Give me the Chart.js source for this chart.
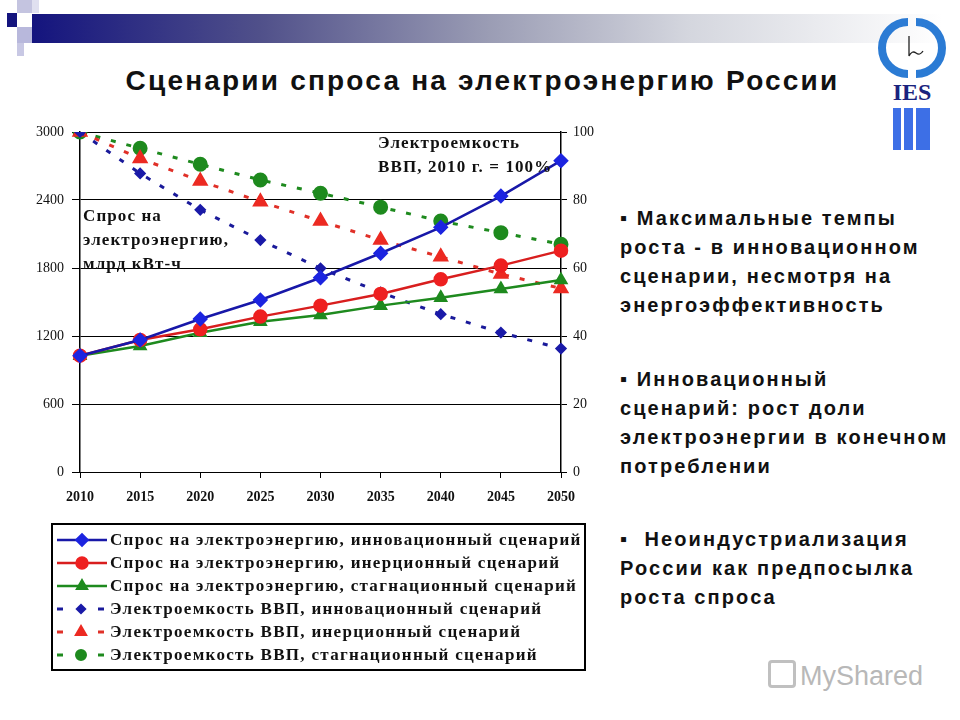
<!DOCTYPE html>
<html>
<head>
<meta charset="utf-8">
<script src="https://cdn.jsdelivr.net/npm/chart.js@4.4.1/dist/chart.umd.min.js"></script>
<style>
  body { margin: 0; background: #fff; }
  #slide { position: relative; width: 960px; height: 720px; overflow: hidden; background: #fff; font-family: "Liberation Sans", Arial, sans-serif; }
  .sq { position: absolute; }
  #bar { position: absolute; left: 32px; top: 14px; width: 910px; height: 29px;
         background: linear-gradient(to right, #14147e 0%, #50508a 25%, #9a9cb4 50%, #d4d6de 72%, #ffffff 100%); }
  #titulo { position: absolute; left: 0; top: 65px; width: 965px; text-align: center; font-weight: bold; font-size: 28px; letter-spacing: 2.2px; color: #111; }
  #grafWrap { position: absolute; left: 0; top: 110px; width: 620px; height: 580px; }
  .nota { position: absolute; font-family: "Liberation Serif", "Times New Roman", serif; font-weight: bold; font-size: 17px; line-height: 24px; color: #111; letter-spacing: 1.1px; white-space: nowrap; }
  .punto { position: absolute; left: 620px; font-weight: bold; font-size: 20px; line-height: 29px; letter-spacing: 2.1px; color: #111; white-space: nowrap; }
  #marca { position: absolute; left: 768px; top: 660px; color: #b8b8b8; font-size: 27px; }
</style>
</head>
<body>
<div id="slide">
  <div class="sq" style="left:17px;top:0;width:15px;height:13px;background:#c4c4e0"></div>
  <div class="sq" style="left:32px;top:0;width:7px;height:13px;background:#e0e0f0"></div>
  <div class="sq" style="left:7px;top:13px;width:10px;height:14px;background:#14147e"></div>
  <div class="sq" style="left:17px;top:27px;width:15px;height:16px;background:#b8b8dc"></div>
  <div class="sq" style="left:17px;top:43px;width:7px;height:13px;background:#c8c8e4"></div>
  <div id="bar"></div>

  <svg style="position:absolute;left:878px;top:16px" width="70" height="140">
    <path d="M30 6 A 26 26 0 0 0 30 58" stroke="#2b7bd4" stroke-width="8" fill="none"/>
    <path d="M38 6 A 26 26 0 0 1 38 58" stroke="#2b7bd4" stroke-width="8" fill="none"/>
    <path d="M31 20 L31 40 Q34 34 38 37 Q42 40 45 35" stroke="#222" stroke-width="1.3" fill="none"/>
    <text x="34" y="84" text-anchor="middle" font-family="Liberation Serif" font-weight="bold" font-size="24" fill="#1a237e">IES</text>
    <rect x="15" y="92" width="8" height="42" fill="#3d6fe6"/>
    <rect x="26" y="92" width="9" height="42" fill="#3d6fe6"/>
    <rect x="38" y="92" width="14" height="42" fill="#3d6fe6"/>
  </svg>

  <div id="titulo">Сценарии спроса на электроэнергию России</div>

  <div id="grafWrap"><canvas id="grafica"></canvas></div>

  <div class="nota" style="left:83px;top:204px">Спрос на<br>электроэнергию,<br>млрд кВт-ч</div>
  <div class="nota" style="left:378px;top:131px">Электроемкость<br>ВВП, 2010 г. = 100%</div>

  <div class="punto" style="top:204px">&#9642; Максимальные темпы<br>роста - в инновационном<br>сценарии, несмотря на<br>энергоэффективность</div>
  <div class="punto" style="top:365px">&#9642; Инновационный<br>сценарий: рост доли<br>электроэнергии в конечном<br>потреблении</div>
  <div class="punto" style="top:525px">&#9642;&nbsp; Неоиндустриализация<br>России как предпосылка<br>роста спроса</div>

  <div id="marca"><span style="display:inline-block;width:22px;height:22px;border:3px solid #c0c0c0;border-radius:4px;vertical-align:-3px;margin-right:4px"></span>MyShared</div>
</div>

<script>
const anios = ["2010", "2015", "2020", "2025", "2030", "2035", "2040", "2045", "2050"]

// спрос, млрд кВт-ч (левая ось)
const sprosInnov = [1026, 1165, 1350, 1518, 1714, 1930, 2159, 2435, 2747]
const sprosInerc = [1026, 1165, 1259, 1371, 1468, 1571, 1700, 1821, 1953]
const sprosStagn = [1026, 1112, 1229, 1326, 1385, 1468, 1538, 1615, 1694]

// электроемкость ВВП, 2010 = 100% (правая ось)
const emkInnov = [100, 87.8, 77.1, 68.2, 59.9, 52.8, 46.4, 41.0, 36.3]
const emkInerc = [100, 92.2, 85.6, 79.5, 73.8, 68.2, 63.3, 58.2, 54.0]
const emkStagn = [100, 95.2, 90.5, 85.9, 82.0, 77.9, 73.8, 70.4, 67.0]

const ticksIzq = [0, 600, 1200, 1800, 2400, 3000]
const ticksDer = [0, 20, 40, 60, 80, 100]

const fuenteSerif = "Liberation Serif, Times New Roman, serif"

// leyenda dibujada dentro del canvas, con recuadro
const leyendaPlugin = {
    id: "leyendaCaja",
    afterDraw(chart) {
        const ctx = chart.ctx
        const x0 = 52, y0 = 414, w = 533, h = 146
        ctx.save()
        ctx.strokeStyle = "#000"
        ctx.lineWidth = 2
        ctx.strokeRect(x0, y0, w, h)
        chart.data.datasets.forEach((ds, i) => {
            const y = y0 + 16 + i * 23
            ctx.strokeStyle = ds.borderColor
            ctx.lineWidth = ds.borderDash ? 3 : 2.5
            ctx.setLineDash(ds.borderDash ? [6, 35] : [])
            ctx.beginPath()
            ctx.moveTo(57, y)
            ctx.lineTo(ds.borderDash ? 104 : 107, y)
            ctx.stroke()
            ctx.setLineDash([])
            ctx.fillStyle = ds.pointBackgroundColor
            ctx.strokeStyle = ds.pointBackgroundColor
            Chart.helpers.drawPoint(ctx, {
                pointStyle: ds.pointStyle,
                radius: ds.legendRadius,
                borderWidth: 1,
                rotation: 0
            }, ds.borderDash ? 81 : 82, y)
            ctx.fillStyle = "#111"
            ctx.font = "bold 17px " + fuenteSerif
            ctx.letterSpacing = "1.3px"
            ctx.textBaseline = "middle"
            ctx.fillText(ds.label, 110, y + 1)
        })
        ctx.restore()
    }
}

const grafDOM = document.querySelector("#grafica")
const config = {
    type: "line",
    data: {
        labels: anios,
        datasets: [
            {
                label: "Спрос на электроэнергию, инновационный сценарий",
                data: sprosInnov, yAxisID: "y",
                borderColor: "#1818a8", borderWidth: 2.5,
                pointStyle: "rectRot", pointRadius: 6, legendRadius: 5.5,
                pointBackgroundColor: "#1c24e0", pointBorderColor: "#1c24e0",
                order: 1
            },
            {
                label: "Спрос на электроэнергию, инерционный сценарий",
                data: sprosInerc, yAxisID: "y",
                borderColor: "#d81e1e", borderWidth: 2.5,
                pointStyle: "circle", pointRadius: 6, legendRadius: 5.5,
                pointBackgroundColor: "#ee2020", pointBorderColor: "#ee2020",
                order: 2
            },
            {
                label: "Спрос на электроэнергию, стагнационный сценарий",
                data: sprosStagn, yAxisID: "y",
                borderColor: "#1e8a1e", borderWidth: 2.5,
                pointStyle: "triangle", pointRadius: 6, legendRadius: 5.5,
                pointBackgroundColor: "#1e8a1e", pointBorderColor: "#1e8a1e",
                order: 3
            },
            {
                label: "Электроемкость ВВП, инновационный сценарий",
                data: emkInnov, yAxisID: "y1",
                borderColor: "#1a1a9a", borderWidth: 3, borderDash: [5, 11],
                pointStyle: "rectRot", pointRadius: 4, legendRadius: 3.5,
                pointBackgroundColor: "#1a1aa8", pointBorderColor: "#1a1aa8",
                order: 4
            },
            {
                label: "Электроемкость ВВП, инерционный сценарий",
                data: emkInerc, yAxisID: "y1",
                borderColor: "#e03028", borderWidth: 3, borderDash: [5, 11],
                pointStyle: "triangle", pointRadius: 6.5, legendRadius: 5,
                pointBackgroundColor: "#ec2a22", pointBorderColor: "#ec2a22",
                order: 5
            },
            {
                label: "Электроемкость ВВП, стагнационный сценарий",
                data: emkStagn, yAxisID: "y1",
                borderColor: "#1e8a1e", borderWidth: 3, borderDash: [5, 11],
                pointStyle: "circle", pointRadius: 6, legendRadius: 4.5,
                pointBackgroundColor: "#1e8a1e", pointBorderColor: "#1e8a1e",
                order: 6
            }
        ]
    },
    options: {
        responsive: true,
        maintainAspectRatio: false,
        animation: false,
        layout: { padding: { top: 22, bottom: 178, left: 0, right: 0 } },
        plugins: {
            legend: { display: false },
            tooltip: { enabled: false }
        },
        elements: { line: { tension: 0 } },
        scales: {
            x: {
                offset: false,
                grid: { drawOnChartArea: false, drawTicks: true, tickLength: 6, color: "#000" },
                border: { color: "#000", width: 1 },
                ticks: { color: "#111", font: { family: fuenteSerif, size: 14, weight: "bold" }, padding: 11, maxRotation: 0 },
                afterFit: (s) => { s.height = 40 }
            },
            y: {
                position: "left",
                min: 0, max: 3000,
                afterBuildTicks: (s) => { s.ticks = ticksIzq.map(v => ({ value: v })) },
                grid: { color: "#000", lineWidth: 1, tickLength: 8 },
                border: { color: "#000", width: 1.5 },
                ticks: { color: "#111", font: { family: fuenteSerif, size: 14 }, padding: 8, callback: (v) => String(v) },
                afterFit: (s) => { s.width = 80 }
            },
            y1: {
                position: "right",
                min: 0, max: 100,
                afterBuildTicks: (s) => { s.ticks = ticksDer.map(v => ({ value: v })) },
                grid: { drawOnChartArea: false, color: "#000", tickLength: 6 },
                border: { color: "#000", width: 1.5 },
                ticks: { color: "#111", font: { family: fuenteSerif, size: 14 }, padding: 6, callback: (v) => String(v) },
                afterFit: (s) => { s.width = 59 }
            }
        }
    },
    plugins: [leyendaPlugin]
}
let miGraf = new Chart(grafDOM, config)
</script>
</body>
</html>
